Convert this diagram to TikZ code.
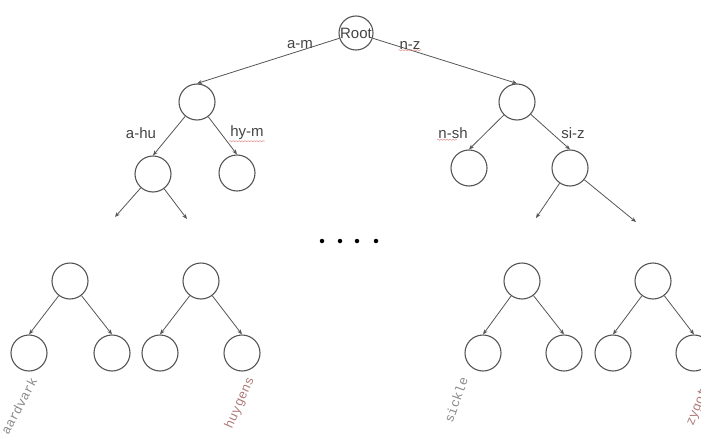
\documentclass[tikz,border=0pt]{standalone}
\usepackage{fontspec}
\setmainfont{Liberation Sans}
\newfontfamily\leafmono{Liberation Mono}
\usetikzlibrary{arrows.meta,decorations.pathmorphing}
\definecolor{ink}{HTML}{555555}
\definecolor{txt}{HTML}{444444}
\definecolor{leafgray}{HTML}{8C8C8C}
\definecolor{leafred}{HTML}{B07A7A}
\definecolor{squig}{HTML}{E09090}
\tikzset{
  tnode/.style={circle, draw=ink, line width=1.1pt, minimum size=36pt, inner sep=0pt},
  rootnode/.style={tnode, minimum size=34pt, font=\fontsize{15}{15}\selectfont, text=txt},
  arr/.style={draw=ink, line width=0.8pt, -{Stealth[length=5pt,width=4pt]}},
  elabel/.style={font=\fontsize{15}{15}\selectfont, text=txt, inner sep=1pt},
  leaflabel/.style={font=\leafmono\fontsize{13}{13}\selectfont, text=leafgray, inner sep=0pt},
  spell/.style={draw=squig, line width=0.5pt, decorate,
    decoration={snake, amplitude=0.6pt, segment length=3pt}},
  dotmark/.style={circle, fill=black, inner sep=0pt, minimum size=4.5pt}
}
\begin{document}
\begin{tikzpicture}[x=1pt, y=-1pt]
\useasboundingbox (0,0) rectangle (701,436);

% upper levels of the trie
\node[rootnode] (root) at (356,33) {Root};
\node[tnode] (l)  at (197,102) {};
\node[tnode] (r)  at (517,102) {};
\node[tnode] (ll) at (153,174) {};
\node[tnode] (lr) at (237,173) {};
\node[tnode] (rl) at (469,168) {};
\node[tnode] (rr) at (570,168) {};

\draw[arr] (root) -- (l.north);
\draw[arr] (root) -- (r.north);
\draw[arr] (l) -- (ll.north);
\draw[arr] (l) -- (lr.north);
\draw[arr] (r) -- (rl.north);
\draw[arr] (r) -- (rr.north);

% branches continuing further down
\coordinate (lla) at (115,217);
\coordinate (llb) at (187,219);
\coordinate (rra) at (536,218);
\coordinate (rrb) at (636,222);
\draw[arr] (ll) -- (lla);
\draw[arr] (ll) -- (llb);
\draw[arr] (rr) -- (rra);
\draw[arr] (rr) -- (rrb);

% edge ranges
\node[elabel] (am)  at (300,45)  {a-m};
\node[elabel] (nz)  at (410,45)  {n-z};
\node[elabel] (ahu) at (141,133) {a-hu};
\node[elabel] (hym) at (247,133) {hy-m};
\node[elabel] (nsh) at (453,133) {n-sh};
\node[elabel] (siz) at (573,133) {si-z};
\draw[spell] (nz.south west) -- (nz.south east);
\draw[spell] (hym.south west) -- (hym.south east);
\draw[spell] (nsh.south west) -- ([xshift=-12pt]nsh.south east);

% ellipsis
\node[dotmark] (d1) at (322,241) {};
\node[dotmark] (d2) at (340,241) {};
\node[dotmark] (d3) at (357,241) {};
\node[dotmark] (d4) at (376,241) {};

% bottom subtrees
\node[tnode] (a)  at (70,281)  {};
\node[tnode] (a1) at (29,353)  {};
\node[tnode] (a2) at (112,353) {};
\node[tnode] (b)  at (201,281) {};
\node[tnode] (b1) at (160,353) {};
\node[tnode] (b2) at (242,353) {};
\node[tnode] (c)  at (522,281) {};
\node[tnode] (c1) at (483,353) {};
\node[tnode] (c2) at (564,353) {};
\node[tnode] (d)  at (653,281) {};
\node[tnode] (d1l) at (613,353) {};
\node[tnode] (d2r) at (694,353) {};

\foreach \p/\c in {a/a1, a/a2, b/b1, b/b2, c/c1, c/c2, d/d1l, d/d2r}
  \draw[arr] (\p) -- (\c.north);

% leaf words
\node[leaflabel, rotate=62]  (w1) at (19,406)  {aardvark};
\node[leaflabel, rotate=66, text=leafred] (w2) at (240,403) {huygens};
\node[leaflabel, rotate=70]  (w3) at (456,400) {sickle};
\node[leaflabel, rotate=68, text=leafred] (w4) at (699,404) {zygote};

\end{tikzpicture}
\end{document}
